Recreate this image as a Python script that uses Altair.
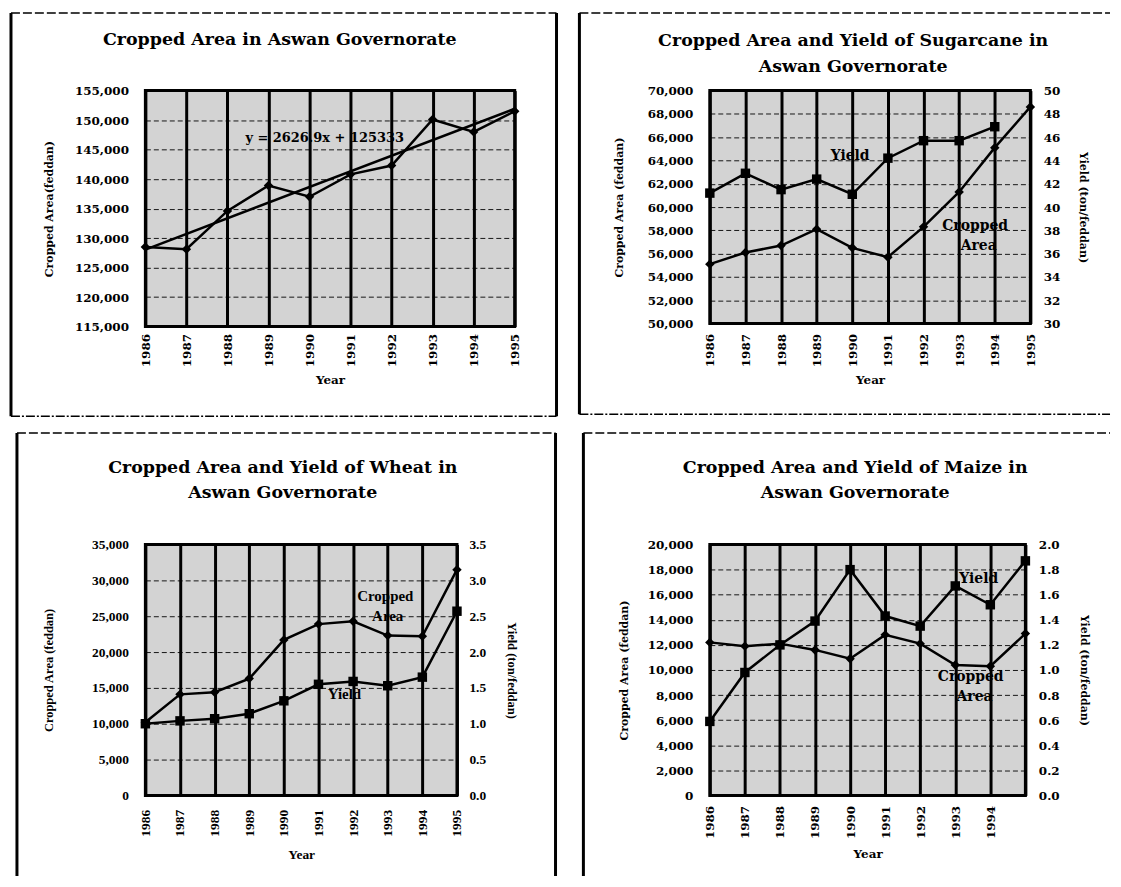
import altair as alt
import pandas as pd

# ---------------- data ----------------
years = [1986, 1987, 1988, 1989, 1990, 1991, 1992, 1993, 1994, 1995]

total_area = [128500, 128100, 134600, 138900, 137000, 140800, 142300, 150100, 148000, 151500]

sugar_area = [55100, 56100, 56700, 58100, 56500, 55700, 58300, 61300, 65100, 68600]
sugar_yield = [41.2, 42.9, 41.5, 42.4, 41.1, 44.2, 45.7, 45.7, 46.9, None]

wheat_area = [10200, 14100, 14400, 16300, 21700, 23900, 24300, 22300, 22200, 31500]
wheat_yield = [1.00, 1.04, 1.07, 1.14, 1.32, 1.55, 1.59, 1.53, 1.65, 2.57]

maize_area = [12200, 11900, 12100, 11600, 10900, 12800, 12100, 10400, 10300, 12900]
maize_yield = [0.59, 0.98, 1.20, 1.39, 1.80, 1.43, 1.35, 1.67, 1.52, 1.87]

p1_ticks = [115000, 120000, 125000, 130000, 135000, 140000, 145000, 150000, 155000]
p2_left_ticks = [50000, 52000, 54000, 56000, 58000, 60000, 62000, 64000, 66000, 68000, 70000]
p2_right_ticks = [30, 32, 34, 36, 38, 40, 42, 44, 46, 48, 50]
p3_left_ticks = [0, 5000, 10000, 15000, 20000, 25000, 30000, 35000]
p3_right_ticks = [0.0, 0.5, 1.0, 1.5, 2.0, 2.5, 3.0, 3.5]
p4_left_ticks = [0, 2000, 4000, 6000, 8000, 10000, 12000, 14000, 16000, 18000, 20000]
p4_right_ticks = [0.0, 0.2, 0.4, 0.6, 0.8, 1.0, 1.2, 1.4, 1.6, 1.8, 2.0]

# annotation labels (text, year position, value position on the area axis)
p1_notes = {"label": ["y = 2626.9x + 125333"], "year": [1990.37], "area": [146900]}
p2_notes = {"label": ["Yield", "Cropped", "Area"], "year": [1989.94, 1993.45, 1993.55], "area": [64360, 58380, 56670]}
p3_notes = {"label": ["Cropped", "Area", "Yield"], "year": [1992.93, 1993.0, 1991.75], "area": [27780, 25000, 14170]}
p4_notes = {"label": ["Yield", "Cropped", "Area"], "year": [1993.67, 1993.44, 1993.55], "area": [17220, 9440, 7860]}

WIDE = "DejaVu Serif"
TIMES = "Liberation Serif"
BLACK = "#000000"
ONE = alt.Data(values=[{}])


def x_enc(hide_last=False, label_pad=7, title_pad=8, font=WIDE, lsize=12, tsize=12):
    ax = dict(values=years, format="d", labelAngle=270, labelPadding=label_pad,
              labelFont=font, labelFontSize=lsize, titleFont=font,
              title="Year", titlePadding=title_pad, titleFontSize=tsize,
              grid=True, gridColor=BLACK, gridWidth=3, gridOpacity=1)
    if hide_last:
        ax["labelExpr"] = "datum.value == 1995 ? '' : datum.label"
    return alt.X("year:Q", scale=alt.Scale(domain=[1986, 1995], nice=False, zero=False),
                 axis=alt.Axis(**ax))


def left_y(dom, ticks, title, title_pad=18, font=WIDE, lsize=12, tsize=11):
    return alt.Y("area:Q", scale=alt.Scale(domain=dom, nice=False, zero=False),
                 axis=alt.Axis(values=ticks, format=",d", title=title, grid=True,
                               gridColor=BLACK, gridDash=[5, 3], gridWidth=1, gridOpacity=0.9,
                               labelFont=font, labelFontSize=lsize, titleFont=font,
                               titleFontSize=tsize, labelPadding=17, titlePadding=title_pad))


def right_y(dom, ticks, fmt, label_pad=13, title_pad=18, font=WIDE, lsize=12, tsize=11):
    return alt.Y("yield:Q", scale=alt.Scale(domain=dom, nice=False, zero=False),
                 axis=alt.Axis(orient="right", values=ticks, format=fmt,
                               title="Yield (ton/feddan)", grid=False,
                               labelFont=font, labelFontSize=lsize, titleFont=font,
                               titleFontSize=tsize,
                               labelPadding=label_pad, titlePadding=title_pad))


def frame(L, R, T, B, right=True, bottom=True):
    parts = [
        alt.Chart(ONE).mark_rule(color=BLACK, strokeWidth=1.5, strokeDash=[9, 3])
        .encode(x=alt.value(L), x2=alt.value(R), y=alt.value(T)),
        alt.Chart(ONE).mark_rule(color=BLACK, strokeWidth=3)
        .encode(x=alt.value(L), y=alt.value(T), y2=alt.value(B)),
    ]
    if right:
        parts.append(alt.Chart(ONE).mark_rule(color=BLACK, strokeWidth=3)
                     .encode(x=alt.value(R), y=alt.value(T), y2=alt.value(B)))
    if bottom:
        parts.append(alt.Chart(ONE).mark_rule(color=BLACK, strokeWidth=1.5, strokeDash=[9, 2, 2, 2])
                     .encode(x=alt.value(L), x2=alt.value(R), y=alt.value(B)))
    return parts


def title_marks(lines, cx, ys):
    return [alt.Chart(ONE).mark_text(text=t, font=WIDE, fontSize=17.5, fontWeight="bold",
                                     color=BLACK, align="center", baseline="middle")
            .encode(x=alt.value(cx), y=alt.value(y)) for t, y in zip(lines, ys)]


def notes_layer(notes, xe, ye, size=14, font=WIDE):
    return alt.Chart(pd.DataFrame(notes)).mark_text(
        font=font, fontSize=size, fontWeight="bold", color=BLACK,
        align="center", baseline="middle").encode(x=xe, y=ye, text="label:N")


def series(df, xe, ye, shape):
    line = alt.Chart(df).mark_line(color=BLACK, strokeWidth=2.5).encode(x=xe, y=ye)
    pts = alt.Chart(df).mark_point(shape=shape, filled=True, size=90, color=BLACK,
                                   opacity=1).encode(x=xe, y=ye)
    return [line, pts]


# ---------------- panel 1 ----------------
df1 = pd.DataFrame({"year": years, "area": total_area})
x1 = x_enc()
y1 = left_y([115000, 155000], p1_ticks, "Cropped Area(feddan)", title_pad=20)
trend = alt.Chart(df1).transform_regression("year", "area", method="linear") \
    .mark_line(color=BLACK, strokeWidth=2.5).encode(x=x1, y=y1)
p1 = alt.layer(
    *series(df1, x1, y1, "diamond"), trend,
    notes_layer(p1_notes, x1, y1, size=13),
    *title_marks(["Cropped Area in Aswan Governorate"], 135, [-51]),
    *frame(-135, 413, -78, 327, right=True, bottom=True),
).properties(width=371, height=237)


def dual(area, yld, ldom, lticks, rdom, rticks, rfmt, notes, titles, tcx, tys, fr, w, h,
         hide_last=False, xl_pad=10, xt_pad=8, lt_pad=18, rt_pad=18, rl_pad=13,
         font=WIDE, lsize=12, tsize=11, xtsize=12, note_font=WIDE, note_size=14):
    df = pd.DataFrame({"year": years, "area": area, "yield": yld})
    xe = x_enc(hide_last, xl_pad, xt_pad, font, lsize, xtsize)
    ly = left_y(ldom, lticks, "Cropped Area (feddan)", lt_pad, font, lsize, tsize)
    ry = right_y(rdom, rticks, rfmt, rl_pad, rt_pad, font, lsize, tsize)
    left = alt.layer(*series(df, xe, ly, "diamond"),
                     notes_layer(notes, xe, ly, note_size, note_font),
                     *title_marks(titles, tcx, tys), *fr)
    right = alt.layer(*series(df, xe, ry, "square"))
    return alt.layer(left, right).resolve_scale(y="independent").properties(width=w, height=h)


p2 = dual(sugar_area, sugar_yield, [50000, 70000], p2_left_ticks, [30, 50], p2_right_ticks, "d",
          p2_notes, ["Cropped Area and Yield of Sugarcane in", "Aswan Governorate"], 144, [-50, -24],
          frame(-131, 402, -78, 325, right=False, bottom=True), 322, 234,
          xl_pad=10, xt_pad=8, lt_pad=23, rt_pad=18)

p3 = dual(wheat_area, wheat_yield, [0, 35000], p3_left_ticks, [0, 3.5], p3_right_ticks, ".1f",
          p3_notes, ["Cropped Area and Yield of Wheat in", "Aswan Governorate"], 138, [-77, -52],
          frame(-129, 412, -112, 333, right=True, bottom=False), 313, 252,
          xl_pad=14, xt_pad=11, lt_pad=36, rt_pad=19, rl_pad=12,
          font=TIMES, lsize=13.5, tsize=12.5, xtsize=13.5, note_font=TIMES, note_size=15)

p4 = dual(maize_area, maize_yield, [0, 20000], p4_left_ticks, [0, 2.0], p4_right_ticks, ".1f",
          p4_notes, ["Cropped Area and Yield of Maize in", "Aswan Governorate"], 146, [-77, -52],
          frame(-127, 402, -112, 333, right=False, bottom=False), 317, 252,
          hide_last=True, xl_pad=10, xt_pad=10, lt_pad=18, rt_pad=19)

chart = alt.concat(p1, p2, p3, p4, columns=2, spacing={"row": 219, "column": 196},
                   bounds="flush", align="each").properties(
    padding=0, background="white"
).configure_view(
    fill="#d3d3d3", stroke=BLACK, strokeWidth=3
).configure_axis(
    domain=False, ticks=False, tickSize=0,
    labelFont=WIDE, labelFontSize=12, labelFontWeight="bold", labelColor=BLACK,
    titleFont=WIDE, titleFontSize=11, titleFontWeight="bold", titleColor=BLACK,
)

chart.save("out.html", embed_options={"renderer": "svg", "actions": False})
